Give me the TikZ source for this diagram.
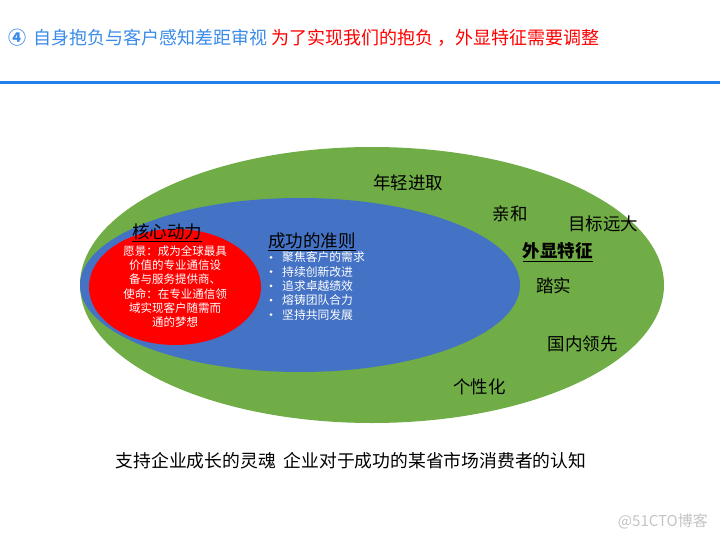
\documentclass[tikz,border=0pt]{standalone}
\usepackage{fontspec}
\setmainfont{Noto Sans CJK SC}
\usetikzlibrary{positioning}

\definecolor{outergreen}{HTML}{70AD47}
\definecolor{midblue}{HTML}{4472C4}
\definecolor{corered}{HTML}{FF0000}
\definecolor{titleblue}{HTML}{3A8BEA}
\definecolor{rulerblue}{HTML}{1F7FEE}
\definecolor{markgray}{HTML}{C4C4C4}

\begin{document}
\begin{tikzpicture}[x=1pt, y=-1pt, inner sep=0pt,
	trait/.style={font=\fontsize{17.5}{20}\selectfont, text=black},
	heading/.style={font=\fontsize{17.5}{20}\selectfont, text=black},
	corebody/.style={font=\fontsize{11.5}{14.2}\selectfont, text=white, align=center},
	item/.style={font=\fontsize{11.8}{14}\selectfont, text=white, anchor=west},
	dot/.style={circle, fill=white, minimum size=3pt}]
	\useasboundingbox [fill=white] (0,0) rectangle (720,540);

	% Title and rule
	\node [anchor=west, font=\fontsize{18}{20}\selectfont]	(title)	at (8,38)
		{\textcolor{titleblue}{\textbf{④}\hspace{7pt}自身抱负与客户感知差距审视} \textcolor{corered}{为了实现我们的抱负 ，外显特征需要调整}};
	\draw [rulerblue, line width=2.5pt] (0,82.5) -- (720,82.5);

	% Ellipses
	\fill [outergreen]	(372,285) ellipse [x radius=292, y radius=138];
	\fill [midblue]		(300,285) ellipse [x radius=220, y radius=87];
	\fill [corered]		(175,287) ellipse [x radius=86, y radius=58];

	% Core
	\node [heading]		(corehead)	at (167,233)	{\underline{核心动力}};
	\node [corebody]	(coretext)	at (175,286.5)
		{愿景：成为全球最具\\价值的专业通信设\\备与服务提供商、\\使命：在专业通信领\\域实现客户随需而\\通的梦想};

	% Principles
	\node [heading, anchor=west]	(rulehead)	at (268,241.5)	{\underline{成功的准则}};
	\node [dot]		(b1)	at (271,257.3)	{};
	\node [dot]		(b2)	at (271,271.7)	{};
	\node [dot]		(b3)	at (271,285.9)	{};
	\node [dot]		(b4)	at (271,300.2)	{};
	\node [dot]		(b5)	at (271,314.6)	{};
	\node [item]	(p1)	at (282,257.3)	{聚焦客户的需求};
	\node [item]	(p2)	at (282,271.7)	{持续创新改进};
	\node [item]	(p3)	at (282,285.9)	{追求卓越绩效};
	\node [item]	(p4)	at (282,300.2)	{熔铸团队合力};
	\node [item]	(p5)	at (282,314.6)	{坚持共同发展};

	% Traits
	\node [trait]	(young)		at (408,183)	{年轻进取};
	\node [trait]	(kind)		at (510,214)	{亲和};
	\node [trait]	(ambit)		at (603,224)	{目标远大};
	\node [trait]	(outer)		at (557.5,252)	{\textbf{\underline{外显特征}}};
	\node [trait]	(solid)		at (553.5,286)	{踏实};
	\node [trait]	(lead)		at (582.5,344)	{国内领先};
	\node [trait]	(unique)	at (479.5,387)	{个性化};

	% Caption
	\node [font=\fontsize{17.8}{20}\selectfont]	(caption)	at (351,461)
		{支持企业成长的灵魂 \ 企业对于成功的某省市场消费者的认知};
	\node [anchor=east, text=markgray, font=\fontsize{15}{17}\selectfont]	(mark)	at (708,521)	{@51CTO博客};
\end{tikzpicture}
\end{document}
